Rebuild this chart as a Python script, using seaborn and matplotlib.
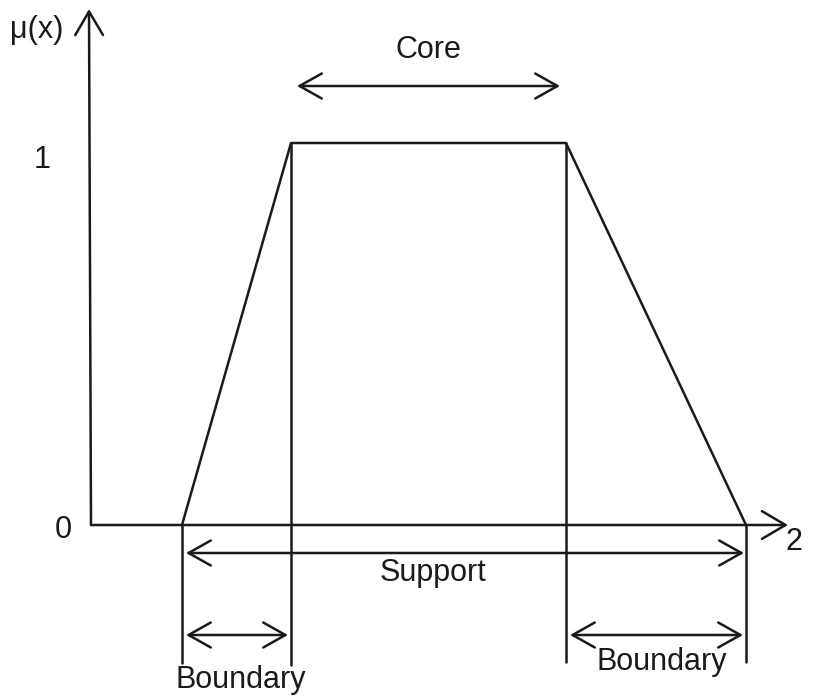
import numpy as np
import pandas as pd
import matplotlib
matplotlib.use("Agg")
import matplotlib.pyplot as plt
import seaborn as sns

# trapezoid membership function (x in drawing units, mu in [0, 1])
x_points = [182, 291, 566, 746]
mu_points = [0, 1, 1, 0]

# labelled spans: (left, right, label)
core_span = (297, 560, "Core")
support_span = (186, 744, "Support")
left_boundary = (186, 288, "Boundary")
right_boundary = (570, 743, "Boundary")

ORIGIN_Y = 525   # pixel row of mu = 0
TOP_Y = 143      # pixel row of mu = 1


def py(y):
    # pixel row -> mu units
    return (ORIGIN_Y - y) / (ORIGIN_Y - TOP_Y)


sns.set_theme(style="white")
plt.rcParams['font.family'] = ['Liberation Sans', 'DejaVu Sans']

fig = plt.figure(figsize=(8.17, 6.97), dpi=100)
ax = fig.add_axes([0, 0, 1, 1])
ax.set_xlim(0, 817)
ax.set_ylim(py(697), py(0))
ax.axis('off')

col = '#1a1a1a'
lw = 1.8
arrow = dict(arrowstyle='->,head_length=0.85,head_width=0.5', color=col, lw=lw,
             shrinkA=0, shrinkB=0, mutation_scale=20)
darrow = dict(arrowstyle='<->,head_length=0.8,head_width=0.45', color=col, lw=lw,
              shrinkA=0, shrinkB=0, mutation_scale=20)

# axes with arrows
ax.annotate('', xy=(89, py(9)), xytext=(91, 0), arrowprops=arrow)
ax.annotate('', xy=(788, 0), xytext=(91, 0), arrowprops=arrow)

# trapezoid
df = pd.DataFrame({'x': x_points, 'mu': mu_points})
sns.lineplot(data=df, x='x', y='mu', ax=ax, color=col, lw=lw, sort=False,
             estimator=None)

# vertical guide lines
ax.plot([x_points[0]] * 2, [0, py(663)], color=col, lw=lw)
ax.plot([x_points[1]] * 2, [1, py(665)], color=col, lw=lw)
ax.plot([x_points[2]] * 2, [1, py(662)], color=col, lw=lw)
ax.plot([x_points[3]] * 2, [0, py(662)], color=col, lw=lw)

fs = 22

# span arrows and labels
ax.annotate('', xy=(core_span[0], py(86)), xytext=(core_span[1], py(86)), arrowprops=darrow)
ax.text(428, py(50), core_span[2], ha='center', va='center', fontsize=fs, color=col)

ax.annotate('', xy=(support_span[0], py(553)), xytext=(support_span[1], py(553)), arrowprops=darrow)
ax.text(433, py(573), support_span[2], ha='center', va='center', fontsize=fs, color=col)

ax.annotate('', xy=(left_boundary[0], py(635)), xytext=(left_boundary[1], py(635)), arrowprops=darrow)
ax.text(241, py(680), left_boundary[2], ha='center', va='center', fontsize=fs, color=col)

ax.annotate('', xy=(right_boundary[0], py(635)), xytext=(right_boundary[1], py(635)), arrowprops=darrow)
ax.text(662, py(662), right_boundary[2], ha='center', va='center', fontsize=fs, color=col)

# axis labels
ax.text(37, py(30), 'μ(x)', ha='center', va='center', fontsize=fs, color=col)
ax.text(42, py(160), '1', ha='center', va='center', fontsize=fs, color=col)
ax.text(63, py(530), '0', ha='center', va='center', fontsize=fs, color=col)
ax.text(794, py(542), '2', ha='center', va='center', fontsize=fs, color=col)

fig.savefig('out.png', dpi=100, facecolor='white')
